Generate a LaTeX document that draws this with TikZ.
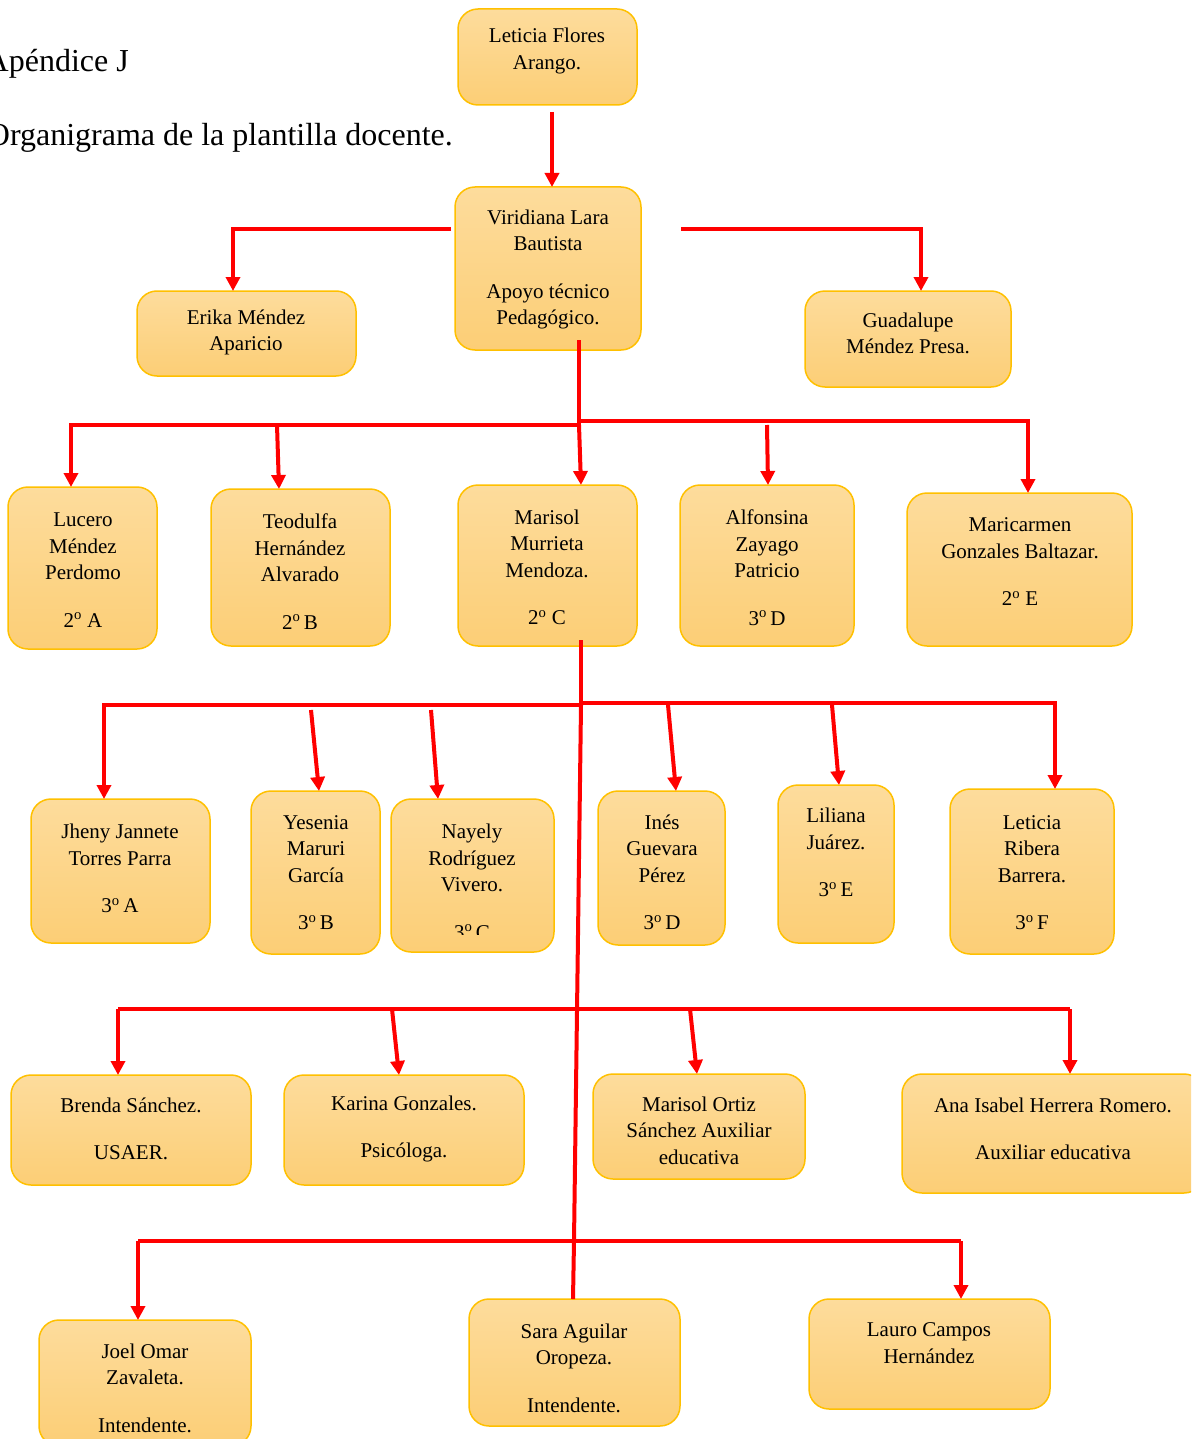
\documentclass[tikz,border=0pt]{standalone}
\usepackage{fontspec}
\setmainfont{Liberation Serif}
\usetikzlibrary{arrows.meta,calc}
\definecolor{boxline}{RGB}{255,192,0}
\definecolor{boxtop}{RGB}{253,220,156}
\definecolor{boxbot}{RGB}{252,206,118}
\definecolor{conred}{RGB}{255,0,0}
\newcommand{\ord}[1]{#1\textsuperscript{o}}
\begin{document}
\begin{tikzpicture}[x=1pt,y=-1pt,
  box/.style={draw=boxline, line width=1.5pt, rounded corners=20pt, top color=boxtop, bottom color=boxbot, inner sep=0pt, outer sep=0pt},
  lbl/.style={align=center, font=\fontsize{21}{26.5}\selectfont, text=black, inner sep=0pt, yshift=-2pt},
  ttl/.style={font=\fontsize{32}{38}\selectfont, inner sep=0pt, anchor=base east},
  conn/.style={draw=conred, line width=4pt},
  arr/.style={conn, -{Triangle[width=14pt,length=14pt]}}]
\path[use as bounding box] (0,0) rectangle (1191,1439);
\clip (0,0) rectangle (1191,1439);
% titles
\node[ttl] (t1) at (129,72) {Apéndice J};
\node[ttl] (t2) at (453,146) {Organigrama de la plantilla docente.};
% boxes
\node[box, minimum width=179pt, minimum height=96pt]  (leticia)   at (547.5,57) {};
\node[box, minimum width=186pt, minimum height=163pt] (viridiana) at (548,268.5) {};
\node[box, minimum width=219pt, minimum height=85pt]  (erika)     at (246.5,333.5) {};
\node[box, minimum width=206pt, minimum height=96pt]  (guadalupe) at (908,339) {};
\node[box, minimum width=149pt, minimum height=162pt] (lucero)    at (82.5,568) {};
\node[box, minimum width=179pt, minimum height=157pt] (teodulfa)  at (300.5,567.5) {};
\node[box, minimum width=179pt, minimum height=161pt] (marisol)   at (547.5,565.5) {};
\node[box, minimum width=174pt, minimum height=161pt] (alfonsina) at (767,565.5) {};
\node[box, minimum width=225pt, minimum height=153pt] (maricarmen) at (1019.5,569.5) {};
\node[box, minimum width=179pt, minimum height=144pt] (jheny)     at (120.5,871) {};
\node[box, minimum width=129pt, minimum height=163pt] (yesenia)   at (315.5,872.5) {};
\node[box, minimum width=163pt, minimum height=153pt] (nayely)    at (472.5,875.5) {};
\node[box, minimum width=127pt, minimum height=154pt] (ines)      at (661.5,868) {};
\node[box, minimum width=116pt, minimum height=158pt] (liliana)   at (836,864) {};
\node[box, minimum width=164pt, minimum height=165pt] (ribera)    at (1032,871.5) {};
\node[box, minimum width=240pt, minimum height=110pt] (brenda)    at (131,1130) {};
\node[box, minimum width=240pt, minimum height=110pt] (karina)    at (404,1130) {};
\node[box, minimum width=212pt, minimum height=105pt] (ortiz)     at (699,1126.5) {};
\node[box, minimum width=302pt, minimum height=119pt] (ana)       at (1053,1133.5) {};
\node[box, minimum width=212pt, minimum height=126pt] (joel)      at (145,1383) {};
\node[box, minimum width=211pt, minimum height=127pt] (sara)      at (574.5,1362.5) {};
\node[box, minimum width=241pt, minimum height=110pt] (lauro)     at (929.5,1354) {};
% texts
\node[lbl] (Lleticia) at (547,49) {Leticia Flores\\Arango.};
\node[lbl] (Lviridiana) at (548,267.5) {Viridiana Lara\\Bautista\\[21pt]Apoyo técnico\\Pedagógico.};
\node[lbl] (Lerika) at (246,330.5) {Erika Méndez\\Aparicio};
\node[lbl] (Lguadalupe) at (908,331.5) {Guadalupe\\Méndez Presa.};
\node[lbl] (Llucero) at (83,568) {Lucero\\Méndez\\Perdomo\\[21pt]\ord{2} A};
\node[lbl] (Lteodulfa) at (300,569.5) {Teodulfa\\Hernández\\Alvarado\\[21pt]\ord{2}\,B};
\node[lbl] (Lmarisol) at (547,565.5) {Marisol\\Murrieta\\Mendoza.\\[21pt]\ord{2} C};
\node[lbl] (Lalfonsina) at (767,565.5) {Alfonsina\\Zayago\\Patricio\\[21pt]\ord{3}\,D};
\node[lbl] (Lmaricarmen) at (1020,560) {Maricarmen\\Gonzales Baltazar.\\[21pt]\ord{2} E};
\node[lbl] (Ljheny) at (120,866.5) {Jheny Jannete\\Torres Parra\\[21pt]\ord{3}\,A};
\node[lbl] (Lyesenia) at (316,870.5) {Yesenia\\Maruri\\García\\[21pt]\ord{3}\,B};
\begin{scope}
\clip (391,799) rectangle (554,934);
\node[lbl] (Lnayely) at (472,880) {Nayely\\Rodríguez\\Vivero.\\[21pt]\ord{3}\,C};
\end{scope}
\node[lbl] (Lines) at (662,870.5) {Inés\\Guevara\\Pérez\\[21pt]\ord{3}\,D};
\node[lbl] (Lliliana) at (836,850.5) {Liliana\\Juárez.\\[21pt]\ord{3}\,E};
\node[lbl] (Lribera) at (1032,870.5) {Leticia\\Ribera\\Barrera.\\[21pt]\ord{3}\,F};
\node[lbl] (Lbrenda) at (131,1127) {Brenda Sánchez.\\[21pt]USAER.};
\node[lbl] (Lkarina) at (404,1127) {Karina Gonzales.\\[21pt]Psicóloga.};
\node[lbl] (Lortiz) at (699,1128.5) {Marisol Ortiz\\Sánchez Auxiliar\\educativa};
\node[lbl] (Lana) at (1053,1127) {Ana Isabel Herrera Romero.\\[21pt]Auxiliar educativa};
\node[lbl] (Ljoel) at (145,1386) {Joel Omar\\Zavaleta.\\[21pt]Intendente.};
\node[lbl] (Lsara) at (574,1366) {Sara Aguilar\\Oropeza.\\[21pt]Intendente.};
\node[lbl] (Llauro) at (929,1341) {Lauro Campos\\Hernández};
% connector points
\coordinate (a0) at (552,112);
\coordinate (vl) at (451,229);
\coordinate (el) at (233,229);
\coordinate (vr) at (681,229);
\coordinate (gr) at (921,229);
\coordinate (v1) at (579,340);
\coordinate (b2) at (579,425);
\coordinate (b2r) at (579,421);
\coordinate (lu) at (71,425);
\coordinate (mc) at (1028,421);
\coordinate (te) at (277,425);
\coordinate (al) at (767,425);
\coordinate (m1) at (581,640);
\coordinate (b3) at (581,705);
\coordinate (b3r) at (581,703);
\coordinate (jh) at (104,705);
\coordinate (rb) at (1055,703);
\coordinate (ye) at (311,710);
\coordinate (na) at (431,710);
\coordinate (in) at (668,705);
\coordinate (li) at (832,705);
\coordinate (bend) at (574,1241);
\coordinate (br) at (118,1009);
\coordinate (an) at (1070,1009);
\coordinate (ka) at (392,1009);
\coordinate (or) at (690,1009);
\coordinate (jo) at (138,1241);
\coordinate (la) at (961,1241);
% connectors
\draw[arr] (a0) -- (a0 |- viridiana.north);
\draw[arr] (vl) -- (el) -- (el |- erika.north);
\draw[arr] (vr) -- (gr) -- (gr |- guadalupe.north);
\draw[conn] (v1) -- (b2);
\draw[arr] (b2) -- (lu) -- (lu |- lucero.north);
\draw[arr] (b2r) -- (mc) -- (mc |- maricarmen.north);
\draw[arr] (te) -- (teodulfa.north -| 279,0);
\draw[arr] (b2) -- (marisol.north -| 581,0);
\draw[arr] (al) -- (alfonsina.north -| 768,0);
\draw[conn] (m1) -- (b3);
\draw[arr] (b3) -- (jh) -- (jh |- jheny.north);
\draw[arr] (b3r) -- (rb) -- (rb |- ribera.north);
\draw[arr] (ye) -- (yesenia.north -| 319,0);
\draw[arr] (na) -- (nayely.north -| 438,0);
\draw[arr] (in) -- (ines.north -| 676,0);
\draw[arr] (li) -- (liliana.north -| 839,0);
\draw[conn] (b3) -- (bend) -- (sara.north -| 573,0);
\draw[conn] (br) -- (an);
\draw[arr] (br) -- (br |- brenda.north);
\draw[arr] (ka) -- (karina.north -| 399,0);
\draw[arr] (or) -- (ortiz.north -| 697,0);
\draw[arr] (an) -- (an |- ana.north);
\draw[conn] (jo) -- (la);
\draw[arr] (jo) -- (jo |- joel.north);
\draw[arr] (la) -- (la |- lauro.north);
\end{tikzpicture}
\end{document}
